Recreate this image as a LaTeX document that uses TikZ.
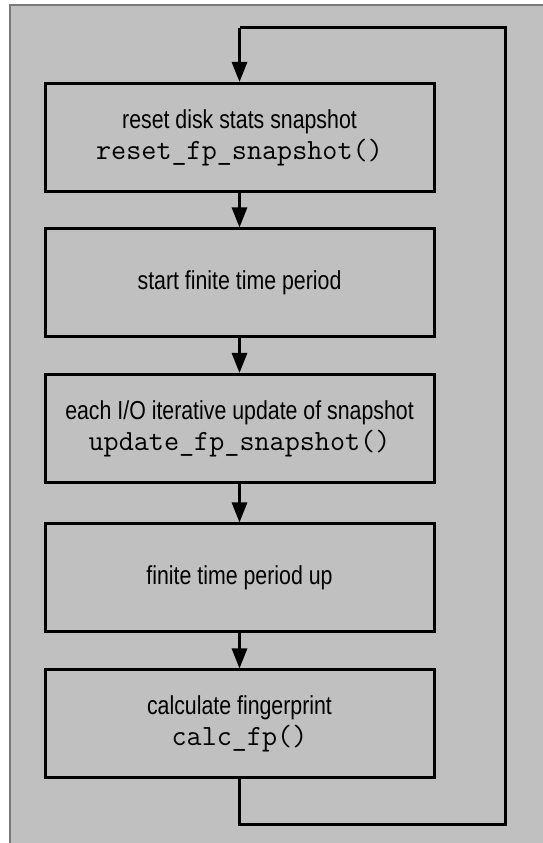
\documentclass[tikz,border=0pt]{standalone}
\usepackage{fontspec}
\setmainfont[FakeStretch=0.82]{Liberation Sans}
\usetikzlibrary{arrows.meta}

\definecolor{panelgray}{HTML}{C0C0C0}
\definecolor{framegray}{HTML}{7A7A7A}

\begin{document}
\begin{tikzpicture}[x=1pt,y=1pt,
  stepbox/.style={draw=black, line width=3pt, minimum width=389pt,
    minimum height=108pt, align=center, inner sep=0pt,
    font=\fontsize{26}{31}\selectfont},
  flow/.style={line width=3pt, -{Triangle[length=20pt,width=15pt]}},
  loopline/.style={line width=3pt}]
  \useasboundingbox (0,0) rectangle (543,843);
  % panel background with its visible frame edges
  \fill[panelgray] (10,0) rectangle (543,838);
  \draw[framegray, line width=1.5pt] (10,0) -- (10,838) -- (543,838);

  \newcommand{\codeline}[1]{{\fontsize{29.3}{31}\ttfamily #1}}

  \node[stepbox] (reset) at (239.5,705.5)
    {reset disk stats snapshot\\ \codeline{reset\_fp\_snapshot()}};
  \node[stepbox] (start) at (239.5,560) {start finite time period};
  \node[stepbox] (update) at (239.5,414.5)
    {each I/O iterative update of snapshot\\ \codeline{update\_fp\_snapshot()}};
  \node[stepbox] (up) at (239.5,265) {finite time period up};
  \node[stepbox] (calc) at (239.5,119)
    {calculate fingerprint\\ \codeline{calc\_fp()}};

  \coordinate (lb) at (239.5,18);
  \coordinate (rb) at (505.5,18);
  \coordinate (rt) at (505.5,815);
  \coordinate (lt) at (239.5,815);

  \draw[flow] (reset) -- (start);
  \draw[flow] (start) -- (update);
  \draw[flow] (update) -- (up);
  \draw[flow] (up) -- (calc);
  \draw[loopline] (calc.south) -- (lb) -- (rb) -- (rt) -- (lt);
  \draw[flow] (lt) -- (reset.north);
\end{tikzpicture}
\end{document}
